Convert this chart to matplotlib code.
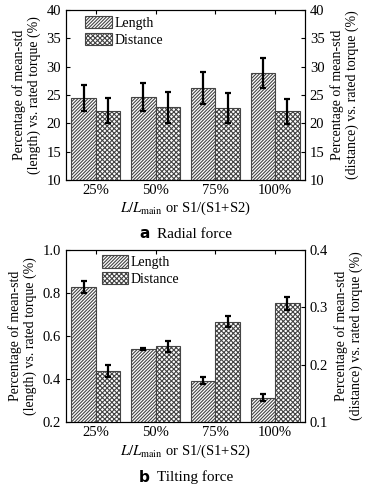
import matplotlib
matplotlib.use("Agg")
import matplotlib.pyplot as plt
import numpy as np

plt.rcParams["font.family"] = ["Liberation Serif", "DejaVu Serif"]
plt.rcParams["mathtext.fontset"] = "stix"
plt.rcParams["hatch.linewidth"] = 0.8
plt.rcParams["hatch.color"] = "#2a2a2a"
plt.rcParams["font.size"] = 10

categories = ["25%", "50%", "75%", "100%"]

# (a) Radial force
radial_length = [24.5, 24.6, 26.2, 28.9]
radial_length_err = [2.35, 2.45, 2.85, 2.7]
radial_distance = [22.2, 22.8, 22.7, 22.1]
radial_distance_err = [2.2, 2.8, 2.6, 2.2]

# (b) Tilting force (distance on right axis)
tilt_length = [0.827, 0.541, 0.393, 0.313]
tilt_length_err = [0.027, 0.005, 0.015, 0.015]
tilt_distance = [0.189, 0.232, 0.275, 0.307]
tilt_distance_err = [0.011, 0.0095, 0.010, 0.011]

fig = plt.figure(figsize=(3.74, 4.87), dpi=100)
W, H = 374, 487


def panel(rect, length, lerr, dist, derr, ylim_l, ticks_l, ylim_r, ticks_r, fmt_l, fmt_r,
          letter, title, xlabel_y, title_y, leg_anchor):
    ax = fig.add_axes([rect[0] / W, 1 - rect[3] / H, (rect[2] - rect[0]) / W, (rect[3] - rect[1]) / H])
    ax2 = ax.twinx()
    x = np.arange(len(categories))
    w = 0.41
    ekw = dict(elinewidth=1.6, capthick=1.6, capsize=2.5, ecolor="black")
    b1 = ax.bar(x - w / 2, length, w, yerr=lerr, color="white", edgecolor="#444444",
                hatch="//////////", linewidth=0.8, error_kw=ekw, label="Length", zorder=2)
    b2 = ax2.bar(x + w / 2, dist, w, yerr=derr, color="white", edgecolor="#444444",
                 hatch="xxxxxxx", linewidth=0.8, error_kw=ekw, label="Distance", zorder=2)
    ax.set_xlim(-0.5, 3.5)
    ax.set_ylim(*ylim_l)
    ax.set_yticks(ticks_l)
    ax.set_yticklabels([fmt_l.format(t) for t in ticks_l])
    ax2.set_ylim(*ylim_r)
    ax2.set_yticks(ticks_r)
    ax2.set_yticklabels([fmt_r.format(t) for t in ticks_r])
    ax.set_xticks(x)
    ax.set_xticklabels(categories)
    ax.tick_params(axis="both", direction="in", top=True, labelsize=10.5, length=3)
    ax.tick_params(axis="x", pad=3)
    ax2.tick_params(axis="y", direction="in", labelsize=10.5, length=3)
    ax.set_ylabel("Percentage of mean-std\n(length) vs. rated torque (%)", fontsize=10, linespacing=1.15)
    ax2.set_ylabel("Percentage of mean-std\n(distance) vs. rated torque (%)", fontsize=10, linespacing=1.15)
    for a in (ax, ax2):
        for s in a.spines.values():
            s.set_linewidth(0.8)
    ax.legend([b1, b2], ["Length", "Distance"], loc="upper left", bbox_to_anchor=leg_anchor,
              frameon=False, fontsize=10, handlelength=1.9, handleheight=1.0,
              handletextpad=0.2, labelspacing=0.2, borderaxespad=0, borderpad=0)
    fig.text((rect[0] + rect[2]) / 2 / W, 1 - xlabel_y / H,
             r"$L/L_{\mathrm{main}}$ or S1/(S1+S2)", ha="center", va="center", fontsize=10.5)
    fig.text(150 / W, 1 - title_y / H, letter, ha="right", va="center", fontsize=11,
             fontweight="bold", family="DejaVu Sans")
    fig.text(157 / W, 1 - title_y / H, title, ha="left", va="center", fontsize=11)
    return ax, ax2


panel((66, 10, 305, 180), radial_length, radial_length_err, radial_distance, radial_distance_err,
      (10, 40), [10, 15, 20, 25, 30, 35, 40], (10, 40), [10, 15, 20, 25, 30, 35, 40],
      "{:.0f}", "{:.0f}", "a", "Radial force", 208, 234, (0.08, 0.965))

panel((66, 250, 305, 422), tilt_length, tilt_length_err, tilt_distance, tilt_distance_err,
      (0.2, 1.0), [0.2, 0.4, 0.6, 0.8, 1.0], (0.1, 0.4), [0.1, 0.2, 0.3, 0.4],
      "{:.1f}", "{:.1f}", "b", "Tilting force", 451, 477, (0.15, 0.97))

fig.savefig("out.png", dpi=100)
